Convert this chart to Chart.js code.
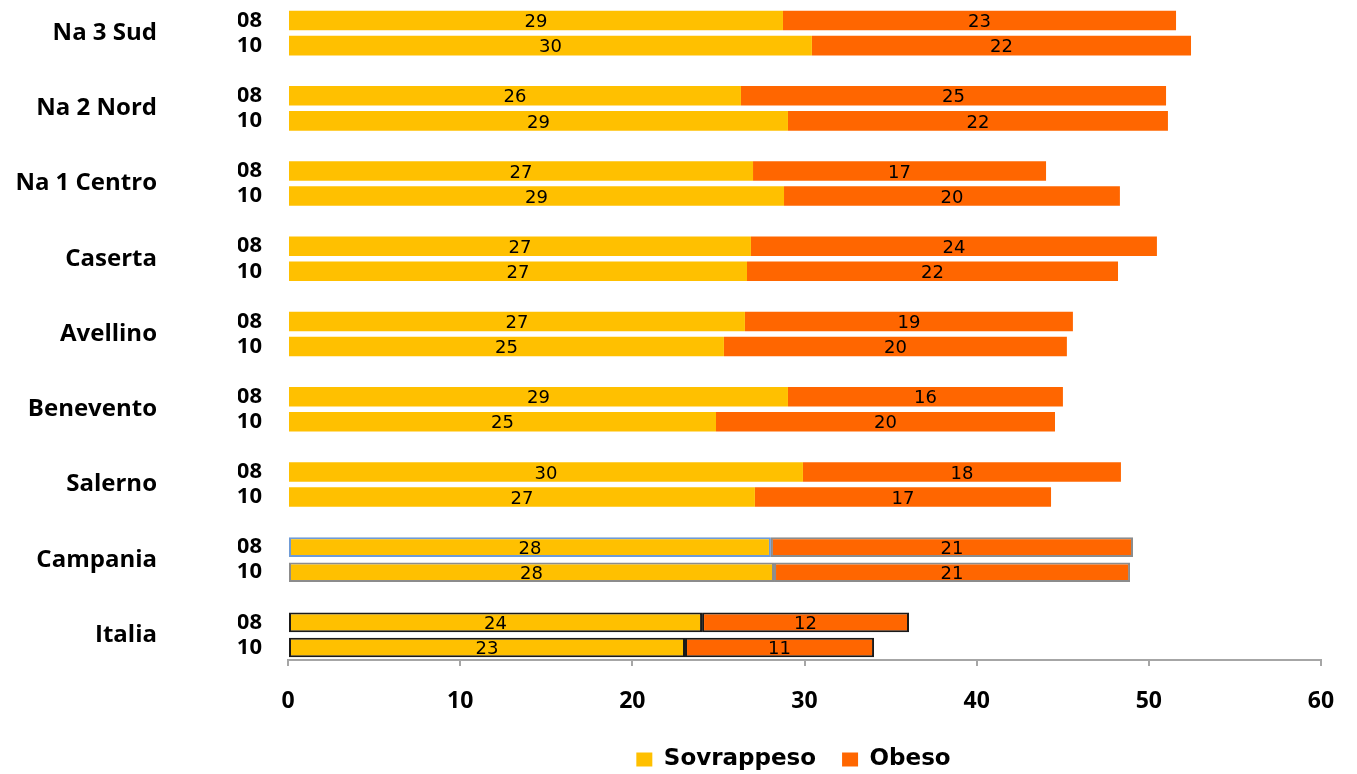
<!DOCTYPE html>
<html>
<head>
<meta charset="utf-8">
<script src="https://cdn.jsdelivr.net/npm/chart.js@4/dist/chart.umd.min.js"></script>
<style>
  html, body { margin: 0; padding: 0; background: #fff; }
  #wrap { width: 1357px; height: 774px; }
</style>
</head>
<body>
<div id="wrap"><canvas id="chart"></canvas></div>
<script>
// data
const regions = ['Na 3 Sud', 'Na 2 Nord', 'Na 1 Centro', 'Caserta', 'Avellino', 'Benevento', 'Salerno', 'Campania', 'Italia'];
const years = ['08', '10'];
const sovrappeso08 = [28.75, 26.31, 27.01, 26.89, 26.54, 29.04, 29.91, 28.05, 24.05];
const sovrappeso10 = [30.43, 29.04, 28.81, 26.66, 25.32, 24.86, 27.12, 28.23, 23.06];
const obeso08 = [22.83, 24.69, 17.02, 23.58, 19.05, 15.97, 18.47, 21.03, 12.02];
const obeso10 = [22.02, 22.07, 19.51, 21.55, 19.92, 19.69, 17.20, 20.68, 10.98];
const xTicks = [0, 10, 20, 30, 40, 50, 60];

const YELLOW = '#FFC000';
const ORANGE = '#FF6600';

// outlines on the two summary rows
const outlines = {
    'Campania': { sov: ['#6F9BD6', '#8C8C8C'], obe: ['#8C8C8C', '#8C8C8C'] },
    'Italia': { sov: ['#1A1A1A', '#1A1A1A'], obe: ['#1A1A1A', '#1A1A1A'] }
};

// one slot per bar, an empty slot between regions
const labels = [];
const sovData = [], obeData = [];
const sovBorder = [], obeBorder = [], borderW = [];
regions.forEach((r, i) => {
    const sov = [sovrappeso08[i], sovrappeso10[i]];
    const obe = [obeso08[i], obeso10[i]];
    years.forEach((y, k) => {
        labels.push(y);
        sovData.push(sov[k]);
        obeData.push(obe[k]);
        const o = outlines[r];
        sovBorder.push(o ? o.sov[k] : YELLOW);
        obeBorder.push(o ? o.obe[k] : ORANGE);
        borderW.push(o ? 2 : 0);
    });
    if (i < regions.length - 1) {
        labels.push('');
        sovData.push(null);
        obeData.push(null);
        sovBorder.push(YELLOW);
        obeBorder.push(ORANGE);
        borderW.push(0);
    }
});

const regionNames = {
    id: 'regionNames',
    afterDraw(chart) {
        const ctx = chart.ctx;
        const y = chart.scales.y;
        ctx.save();
        ctx.font = 'bold 24px "Open Sans"';
        ctx.fillStyle = '#000';
        ctx.textAlign = 'right';
        ctx.textBaseline = 'middle';
        regions.forEach((r, i) => {
            const a = y.getPixelForValue(i * 3);
            const b = y.getPixelForValue(i * 3 + 1);
            ctx.fillText(r, 157, (a + b) / 2);
        });
        ctx.restore();
    }
};

const barValues = {
    id: 'barValues',
    afterDatasetsDraw(chart) {
        const ctx = chart.ctx;
        ctx.save();
        ctx.font = '18px "DejaVu Sans"';
        ctx.fillStyle = '#000';
        ctx.textAlign = 'center';
        ctx.textBaseline = 'middle';
        chart.data.datasets.forEach((ds, di) => {
            const meta = chart.getDatasetMeta(di);
            meta.data.forEach((el, i) => {
                const v = ds.data[i];
                if (v === null) return;
                const p = el.getProps(['x', 'y', 'base'], true);
                ctx.fillText(Math.round(v), (p.x + p.base) / 2, p.y + 2);
            });
        });
        ctx.restore();
    }
};

// legend sits a little right of the canvas centre in the original
const legendShift = {
    id: 'legendShift',
    afterLayout(chart) {
        chart.legend.left += 14;
        chart.legend.right += 14;
    }
};

new Chart(document.getElementById('chart'), {
    type: 'bar',
    data: {
        labels: labels,
        datasets: [{
            label: 'Sovrappeso',
            data: sovData,
            backgroundColor: YELLOW,
            borderColor: sovBorder,
            borderWidth: borderW,
            borderSkipped: false
        }, {
            label: 'Obeso',
            data: obeData,
            backgroundColor: ORANGE,
            borderColor: obeBorder,
            borderWidth: borderW,
            borderSkipped: false
        }]
    },
    options: {
        indexAxis: 'y',
        responsive: true,
        maintainAspectRatio: false,
        animation: false,
        barPercentage: 0.78,
        categoryPercentage: 1,
        layout: { autoPadding: false, padding: { left: 238, right: 36, top: 8, bottom: -7 } },
        plugins: {
            legend: {
                position: 'bottom',
                labels: {
                    color: '#000',
                    font: { family: 'DejaVu Sans', size: 23, weight: 'bold' },
                    boxWidth: 16,
                    boxHeight: 14,
                    padding: 26
                }
            },
            tooltip: { enabled: false }
        },
        scales: {
            x: {
                stacked: true,
                min: 0,
                max: 60,
                afterBuildTicks: s => { s.ticks = xTicks.map(v => ({ value: v })); },
                afterFit: s => { s.height = 62; },
                grid: { drawOnChartArea: false, drawTicks: true, tickLength: 6, color: '#A6A6A6', lineWidth: 2 },
                border: { display: true, color: '#A6A6A6', width: 2 },
                ticks: {
                    color: '#000',
                    padding: 22,
                    font: { family: 'Open Sans', size: 23, weight: 'bold' }
                }
            },
            y: {
                stacked: true,
                afterFit: s => { s.width = 50; s.paddingTop = 0; s.paddingBottom = 0; },
                grid: { display: false, drawTicks: false },
                border: { display: false },
                ticks: {
                    autoSkip: false,
                    color: '#000',
                    padding: 26,
                    font: { family: 'Open Sans', size: 22, weight: 'bold' }
                }
            }
        }
    },
    plugins: [regionNames, barValues, legendShift]
});
</script>
</body>
</html>
